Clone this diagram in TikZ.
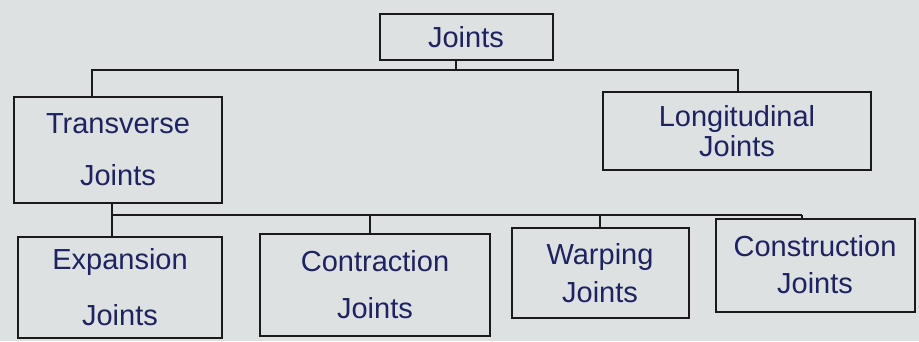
\documentclass[tikz,border=0pt]{standalone}
\usepackage{fontspec}
\setmainfont{Liberation Sans}
\definecolor{paper}{HTML}{DDE1E2}
\definecolor{ink}{HTML}{1E2260}
\definecolor{pen}{HTML}{1A1A1A}
\tikzset{
  box/.style={draw=pen, line width=2pt, rectangle, inner sep=0pt, text=ink,
    align=center, font=\fontsize{29}{35}\selectfont},
  wire/.style={draw=pen, line width=2pt}
}
\begin{document}
\begin{tikzpicture}[x=1pt,y=-1pt]
\fill[paper] (0,0) rectangle (919,341);
\useasboundingbox (0,0) rectangle (919,341);

\node[box, minimum width=173pt, minimum height=46pt] (joints) at (466,37) {Joints};
\node[box, minimum width=208pt, minimum height=106pt] (transv) at (118,150) {Transverse\\[17pt]Joints};
\node[box, minimum width=268pt, minimum height=78pt] (longi) at (737,131) {Longitudinal\\[-5pt]Joints};

\node[box, minimum width=204pt, minimum height=101pt] (expan) at (120,287) {Expansion\\[21pt]Joints};
\node[box, minimum width=230pt, minimum height=102pt] (contr) at (375,285) {Contraction\\[12pt]Joints};
\node[box, minimum width=177pt, minimum height=90pt] (warp) at (600,273) {Warping\\[3pt]Joints};
\node[box, minimum width=199pt, minimum height=93pt] (constr) at (815,265) {Construction\\[2pt]Joints};

% top bus
\coordinate (tm) at (456,70);
\coordinate (tl) at (92,70);
\coordinate (tr) at (738,70);
\draw[wire] (joints.south -| tm) -- (tm);
\draw[wire] (transv.north -| tl) -- (tl) -- (tr) -- (longi.north -| tr);

% bottom bus
\coordinate (b1) at (112,215);
\coordinate (b2) at (370,215);
\coordinate (b3) at (600,215);
\coordinate (b4) at (802,215);
\draw[wire] (transv.south -| b1) -- (expan.north -| b1);
\draw[wire] (b1) -- (b4);
\draw[wire] (b2) -- (contr.north -| b2);
\draw[wire] (b3) -- (warp.north -| b3);
\draw[wire] (b4) -- (constr.north -| b4);
\end{tikzpicture}
\end{document}
